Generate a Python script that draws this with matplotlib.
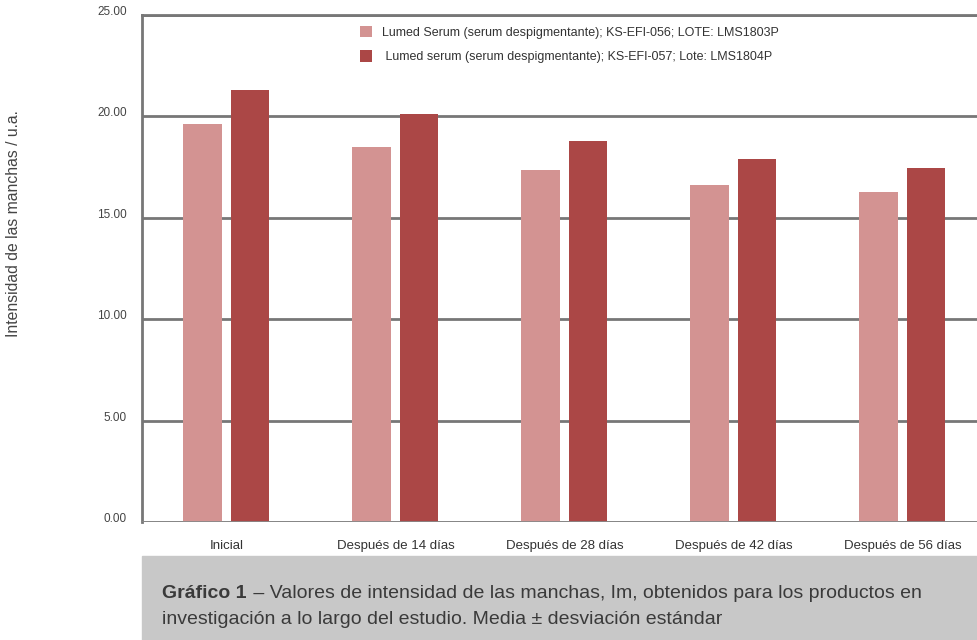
import numpy as np
import matplotlib.pyplot as plt
from matplotlib.patches import Rectangle

plt.rcParams['font.family'] = ['Liberation Sans', 'DejaVu Sans']

categorias = ['Inicial', 'Después de 14 días', 'Después de 28 días',
              'Después de 42 días', 'Después de 56 días']
lote_056 = [19.63, 18.49, 17.36, 16.62, 16.27]
lote_057 = [21.30, 20.12, 18.79, 17.90, 17.46]
series_labels = ['Lumed Serum (serum despigmentante); KS-EFI-056; LOTE: LMS1803P',
                 ' Lumed serum (serum despigmentante); KS-EFI-057; Lote: LMS1804P']
yticks = [0, 5, 10, 15, 20, 25]

c_light = '#d39392'
c_dark = '#ab4746'
c_grid = '#777777'

fig = plt.figure(figsize=(9.78, 6.4), dpi=100)
# axes runs past the right edge of the figure, as in the original
ax = fig.add_axes([142/978, 118/640, 845/978, 507/640])

x = np.arange(len(categorias))
w = 0.225
ax.bar(x - 0.142, lote_056, width=w, color=c_light, label=series_labels[0], zorder=3)
ax.bar(x + 0.14, lote_057, width=w, color=c_dark, label=series_labels[1], zorder=3)

ax.set_xlim(-0.5, len(categorias) - 0.5)
ax.set_ylim(0, 25)
ax.set_yticks(yticks)
ax.set_yticklabels(['%.2f' % v for v in yticks], fontsize=8.5, color='#444444')
ax.set_xticks(x)
ax.set_xticklabels(categorias, fontsize=9.5, color='#333333')
ax.tick_params(axis='both', length=0)
ax.tick_params(axis='y', pad=11)
ax.tick_params(axis='x', pad=13)
for lbl in ax.get_yticklabels():
    lbl.set_verticalalignment('baseline')

ax.yaxis.grid(True, color=c_grid, linewidth=2, zorder=1)
for s in ['right', 'bottom']:
    ax.spines[s].set_visible(False)
ax.spines['top'].set_color(c_grid)
ax.spines['top'].set_linewidth(2)
ax.spines['left'].set_color(c_grid)
ax.spines['left'].set_linewidth(2)
ax.axhline(0, color='#888888', linewidth=2, zorder=4)

leg = ax.legend(loc='upper left', bbox_to_anchor=(0.245, 1.0), frameon=False,
                fontsize=9, handlelength=0.95, handleheight=1.0,
                handletextpad=0.75, labelspacing=0.9)
for t in leg.get_texts():
    t.set_color('#333333')

fig.text(14/978, 1 - 224/640, 'Intensidad de las manchas / u.a.', rotation=90,
         fontsize=11.3, color='#444444', ha='center', va='center')

# caption box
fig.patches.append(Rectangle((142/978, 0), 1 - 142/978, 84/640,
                             transform=fig.transFigure, color='#c8c8c8', zorder=0))
cap_font = ['Liberation Sans Narrow', 'Liberation Sans', 'DejaVu Sans']
t1 = fig.text(162/978, 1 - 593/640, 'Gráfico 1', fontsize=14, fontweight='bold',
              color='#3a3a3a', va='center', family=cap_font)
fig.canvas.draw()
bb = t1.get_window_extent()
fig.text(bb.x1 / 978 + 0.002, 1 - 593/640,
         ' – Valores de intensidad de las manchas, Im, obtenidos para los productos en',
         fontsize=14, color='#3a3a3a', va='center', family=cap_font)
fig.text(162/978, 1 - 620/640,
         'investigación a lo largo del estudio. Media ± desviación estándar',
         fontsize=14, color='#3a3a3a', va='center', family=cap_font)

fig.savefig('out.png', dpi=100)
